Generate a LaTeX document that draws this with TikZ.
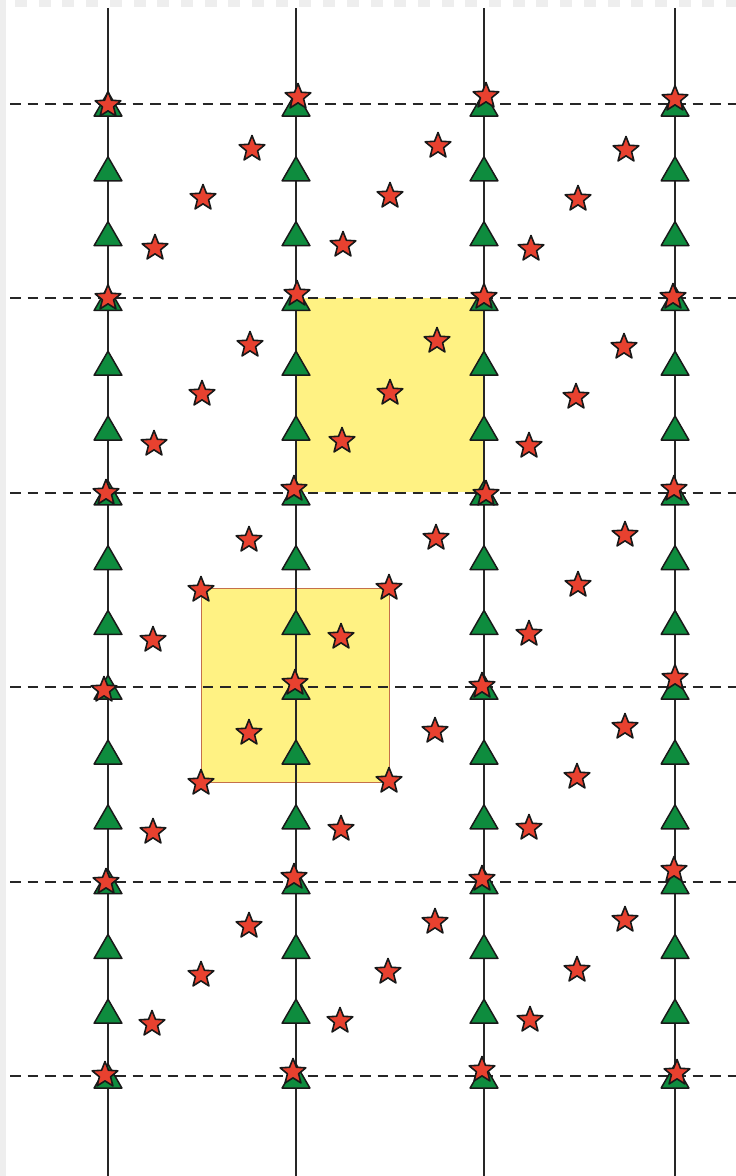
\documentclass[tikz,border=0pt]{standalone}
\usetikzlibrary{shapes.geometric}
\definecolor{starred}{HTML}{E8412F}
\definecolor{trigreen}{HTML}{0E8C3E}
\definecolor{sqyellow}{HTML}{FFF283}
\definecolor{sqedge}{HTML}{C4704A}
\definecolor{stripgray}{HTML}{EEEEEE}
\definecolor{linegray}{HTML}{262626}
\tikzset{
  staricon/.style={star, star points=5, star point ratio=2.3, minimum size=27pt, inner sep=0pt,
    fill=starred, draw=black!90, line width=1.6pt, line join=round},
  triicon/.style={regular polygon, regular polygon sides=3, minimum size=32pt, inner sep=0pt,
    fill=trigreen, draw=black!90, line width=1.5pt, line join=round},
  gridline/.style={draw=linegray, line width=2.1pt},
  rowline/.style={draw=linegray, line width=2.1pt, dash pattern=on 10.5pt off 7pt},
  cellfill/.style={fill=sqyellow},
  stripfill/.style={fill=stripgray},
}
\begin{document}
\begin{tikzpicture}[x=1pt,y=-1pt]
\path[use as bounding box, fill=white] (0,0) rectangle (736,1176);
% screenshot frame strips
\fill[stripfill] (0,0) rectangle (6,1176);
\foreach \k in {0,...,30} {
  \fill[stripfill] ({15+23.7*\k},0) rectangle ({27+23.7*\k},7);
}
% highlighted cells
\fill[cellfill] (297,298) rectangle (484,492);
\filldraw[cellfill, draw=sqedge, line width=0.9pt] (201,588) rectangle (389,782);
% dashed rows
\foreach \r [count=\i] in {104,298.4,492.8,687.2,881.6,1076} {
  \coordinate (rowL\i) at (10,\r);
  \coordinate (rowR\i) at (736,\r);
  \draw[rowline] (rowL\i) -- (rowR\i);
}
% vertical lines
\foreach \x [count=\i] in {108,296,484,675} {
  \coordinate (colT\i) at (\x,8);
  \coordinate (colB\i) at (\x,1176);
  \draw[gridline] (colT\i) -- (colB\i);
}
% triangles
\foreach \x [count=\i] in {108,296,484,675} {
  \foreach \k in {0,...,15} {
    \node[triicon] (tri-\i-\k) at (\x,{108+64.8*\k}) {};
  }
}
% lattice stars
\foreach \x/\y [count=\n] in {108/105,108/298,106/493,104/690,106/882,105/1075,
  298/97,297/294,294/489,295/683,294/877,293/1072,
  486/96,484/297,486/494,482/686,482/879,482/1070,
  675/99,673/297,674/489,675/678,674/870,677/1073} {
  \node[staricon] (ls-\n) at (\x,\y) {};
}
% cell stars
\foreach \x/\y [count=\n] in {252/149,203/198,155/248,
  250/345,202/394,154/444,
  249/540,201/590,153/640,
  249/733,201/783,153/832,
  249/926,201/975,152/1024,
  438/146,390/196,343/245,
  437/341,390/393,342/441,
  436/538,389/588,341/637,
  435/731,389/781,341/829,
  435/922,388/972,340/1021,
  626/150,578/199,531/249,
  624/347,576/397,529/446,
  625/535,578/585,529/634,
  625/727,577/777,529/828,
  625/920,577/970,530/1020} {
  \node[staricon] (cs-\n) at (\x,\y) {};
}
\end{tikzpicture}
\end{document}
